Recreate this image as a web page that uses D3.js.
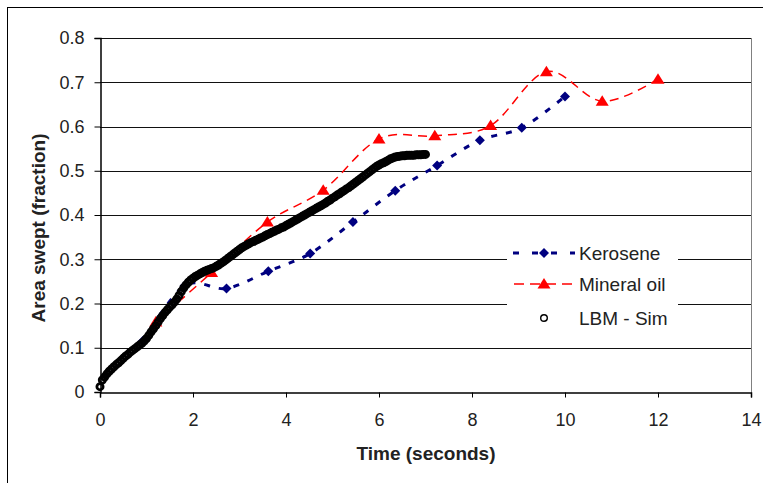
<!DOCTYPE html>
<html lang="en">
  <head>
    <meta charset="utf-8">
    <title>Area swept</title>
    <script src="https://cdn.jsdelivr.net/npm/d3@7"></script>
    <style>
      body { margin: 0; background: #fff; }
      text { font-family: "Liberation Sans", Arial, sans-serif; }
    </style>
  </head>
  <body>
    <script>
      // Data
      var keroseneTime = [0.92, 1.82, 2.72, 3.62, 4.52, 5.44, 6.35, 7.25, 8.17, 9.07, 10.0];
      var keroseneArea = [0.115, 0.240, 0.234, 0.273, 0.313, 0.384, 0.455, 0.512, 0.569, 0.597, 0.668];

      var mineralTime = [1.2, 2.4, 3.6, 4.8, 6.0, 7.2, 8.4, 9.6, 10.8, 12.0];
      var mineralArea = [0.158, 0.270, 0.384, 0.456, 0.572, 0.579, 0.602, 0.724, 0.657, 0.707];

      var lbmTime = [
        0.00, 0.05, 0.10, 0.15, 0.20, 0.25, 0.30, 0.35, 0.40, 0.45,
        0.50, 0.55, 0.60, 0.65, 0.70, 0.75, 0.80, 0.85, 0.90, 0.95,
        1.00, 1.05, 1.10, 1.15, 1.20, 1.25, 1.30, 1.35, 1.40, 1.45,
        1.50, 1.55, 1.60, 1.65, 1.70, 1.75, 1.80, 1.85, 1.90, 1.95,
        2.00, 2.05, 2.10, 2.15, 2.20, 2.25, 2.30, 2.35, 2.40, 2.45,
        2.50, 2.55, 2.60, 2.65, 2.70, 2.75, 2.80, 2.85, 2.90, 2.95,
        3.00, 3.05, 3.10, 3.15, 3.20, 3.25, 3.30, 3.35, 3.40, 3.45,
        3.50, 3.55, 3.60, 3.65, 3.70, 3.75, 3.80, 3.85, 3.90, 3.95,
        4.00, 4.05, 4.10, 4.15, 4.20, 4.25, 4.30, 4.35, 4.40, 4.45,
        4.50, 4.55, 4.60, 4.65, 4.70, 4.75, 4.80, 4.85, 4.90, 4.95,
        5.00, 5.05, 5.10, 5.15, 5.20, 5.25, 5.30, 5.35, 5.40, 5.45,
        5.50, 5.55, 5.60, 5.65, 5.70, 5.75, 5.80, 5.85, 5.90, 5.95,
        6.00, 6.05, 6.10, 6.15, 6.20, 6.25, 6.30, 6.35, 6.40, 6.45,
        6.50, 6.55, 6.60, 6.65, 6.70, 6.75, 6.80, 6.85, 6.90, 6.95,
        7.00
      ];
      var lbmArea = [
        0.012, 0.027, 0.034, 0.041, 0.047, 0.052, 0.057, 0.062, 0.066, 0.071,
        0.076, 0.081, 0.085, 0.090, 0.094, 0.098, 0.102, 0.106, 0.110, 0.115,
        0.121, 0.128, 0.136, 0.143, 0.150, 0.158, 0.166, 0.173, 0.180, 0.186,
        0.192, 0.197, 0.203, 0.210, 0.218, 0.227, 0.235, 0.242, 0.248, 0.253,
        0.257, 0.261, 0.264, 0.267, 0.270, 0.273, 0.275, 0.277, 0.279, 0.281,
        0.284, 0.287, 0.291, 0.294, 0.298, 0.302, 0.306, 0.310, 0.314, 0.318,
        0.322, 0.326, 0.329, 0.332, 0.335, 0.338, 0.340, 0.343, 0.345, 0.348,
        0.350, 0.353, 0.356, 0.358, 0.361, 0.363, 0.366, 0.368, 0.371, 0.373,
        0.376, 0.379, 0.382, 0.385, 0.388, 0.391, 0.394, 0.397, 0.400, 0.403,
        0.406, 0.409, 0.412, 0.415, 0.418, 0.421, 0.424, 0.427, 0.431, 0.434,
        0.438, 0.441, 0.445, 0.448, 0.452, 0.455, 0.459, 0.462, 0.466, 0.470,
        0.474, 0.478, 0.482, 0.486, 0.490, 0.494, 0.498, 0.502, 0.506, 0.510,
        0.513, 0.516, 0.518, 0.521, 0.524, 0.527, 0.529, 0.531, 0.532, 0.533,
        0.534, 0.534, 0.535, 0.535, 0.535, 0.535, 0.536, 0.536, 0.536, 0.537,
        0.537
      ];

      var xTicks = [0, 2, 4, 6, 8, 10, 12, 14];
      var yTicks = [0, 0.1, 0.2, 0.3, 0.4, 0.5, 0.6, 0.7, 0.8];
      var legendNames = ["Kerosene", "Mineral oil", "LBM - Sim"];

      // Plot area
      var W = 763, H = 483;
      var plot = {left: 100, top: 38, right: 751, bottom: 392};

      var svg = d3.select("body").append("svg")
                  .attr("width", W)
                  .attr("height", H);

      // outer chart frame (runs off right and bottom edges)
      svg.append("rect")
         .attr("x", 7.5).attr("y", 7.5)
         .attr("width", 900).attr("height", 600)
         .attr("fill", "#fff")
         .attr("stroke", "#000")
         .attr("stroke-width", 1);

      var x = d3.scaleLinear().domain([0, 14]).range([plot.left, plot.right]);
      var y = d3.scaleLinear().domain([0, 0.8]).range([plot.bottom, plot.top]);

      // Gridlines
      svg.append("g")
         .selectAll("line")
         .data(yTicks.slice(1))
         .enter()
         .append("line")
         .attr("x1", plot.left).attr("x2", plot.right)
         .attr("y1", function(d) { return Math.round(y(d)) + 0.5; })
         .attr("y2", function(d) { return Math.round(y(d)) + 0.5; })
         .attr("stroke", "#111")
         .attr("stroke-width", 1);

      // right edge of plot area
      svg.append("line")
         .attr("x1", plot.right + 0.5).attr("x2", plot.right + 0.5)
         .attr("y1", plot.top).attr("y2", plot.bottom)
         .attr("stroke", "#808080");

      // Axes
      var xAxis = svg.append("g")
         .attr("transform", "translate(0," + (plot.bottom + 0.5) + ")")
         .call(d3.axisBottom(x).tickValues(xTicks).tickSize(5).tickPadding(16)
                 .tickFormat(d3.format("d")));
      var yAxis = svg.append("g")
         .attr("transform", "translate(" + (plot.left + 0.5) + ",0)")
         .call(d3.axisLeft(y).tickValues(yTicks).tickSize(6).tickPadding(10)
                 .tickFormat(function(d) { return d === 0 ? "0" : d3.format(".1f")(d); }));

      [xAxis, yAxis].forEach(function(g) {
        g.select(".domain").attr("stroke", "#000").attr("stroke-width", 1.5);
        g.selectAll(".tick line").attr("stroke", "#000");
        g.selectAll(".tick text")
         .attr("font-family", "Liberation Sans, Arial, sans-serif")
         .attr("font-size", 18)
         .attr("fill", "#222");
      });

      // Axis titles
      svg.append("text")
         .attr("x", 426).attr("y", 460)
         .attr("text-anchor", "middle")
         .attr("font-size", 19)
         .attr("font-weight", "bold")
         .attr("fill", "#222")
         .text("Time (seconds)");

      svg.append("text")
         .attr("transform", "translate(45,228) rotate(-90)")
         .attr("text-anchor", "middle")
         .attr("font-size", 19)
         .attr("font-weight", "bold")
         .attr("fill", "#222")
         .text("Area swept (fraction)");

      // Series
      var diamond = "M0,-5L5,0L0,5L-5,0Z";
      var triangle = "M0,-6L6.5,4.5L-6.5,4.5Z";

      var smooth = d3.line()
                     .x(function(d) { return x(d[0]); })
                     .y(function(d) { return y(d[1]); })
                     .curve(d3.curveCardinal.tension(0));

      var kerosene = keroseneTime.map(function(t, i) { return [t, keroseneArea[i]]; });
      var mineral = mineralTime.map(function(t, i) { return [t, mineralArea[i]]; });
      var lbm = lbmTime.map(function(t, i) { return [t, lbmArea[i]]; });

      svg.append("path")
         .datum(kerosene)
         .attr("d", smooth)
         .attr("fill", "none")
         .attr("stroke", "#000080")
         .attr("stroke-width", 3)
         .attr("stroke-dasharray", "6,9");
      svg.append("g").selectAll("path")
         .data(kerosene).enter().append("path")
         .attr("d", diamond)
         .attr("transform", function(d) { return "translate(" + x(d[0]) + "," + y(d[1]) + ")"; })
         .attr("fill", "#000080");

      svg.append("path")
         .datum(mineral)
         .attr("d", smooth)
         .attr("fill", "none")
         .attr("stroke", "#ff0000")
         .attr("stroke-width", 1.5)
         .attr("stroke-dasharray", "9,6");
      svg.append("g").selectAll("path")
         .data(mineral).enter().append("path")
         .attr("d", triangle)
         .attr("transform", function(d) { return "translate(" + x(d[0]) + "," + y(d[1]) + ")"; })
         .attr("fill", "#ff0000");

      svg.append("g").selectAll("circle")
         .data(lbm).enter().append("circle")
         .attr("cx", function(d) { return x(d[0]); })
         .attr("cy", function(d) { return y(d[1]); })
         .attr("r", 3.1)
         .attr("fill", "none")
         .attr("stroke", "#000")
         .attr("stroke-width", 2.8);

      // Legend
      var legend = svg.append("g");
      legend.append("rect")
            .attr("x", 507).attr("y", 236)
            .attr("width", 171).attr("height", 98)
            .attr("fill", "#fff");

      var rowY = [253, 284, 318];
      var rows = legend.selectAll("g.row")
                       .data(legendNames)
                       .enter()
                       .append("g")
                       .attr("class", "row")
                       .attr("transform", function(d, i) { return "translate(0," + rowY[i] + ")"; });

      rows.append("text")
          .attr("x", 579)
          .attr("dy", "0.35em")
          .attr("font-size", 19)
          .attr("fill", "#222")
          .text(function(d) { return d; });

      rows.filter(function(d, i) { return i === 0; })
          .append("line")
          .attr("x1", 513).attr("x2", 575)
          .attr("stroke", "#000080").attr("stroke-width", 3)
          .attr("stroke-dasharray", "6,13");
      rows.filter(function(d, i) { return i === 0; })
          .append("path")
          .attr("d", diamond)
          .attr("transform", "translate(544,0)")
          .attr("fill", "#000080");

      rows.filter(function(d, i) { return i === 1; })
          .append("line")
          .attr("x1", 514).attr("x2", 575)
          .attr("stroke", "#ff0000").attr("stroke-width", 1.5)
          .attr("stroke-dasharray", "10,6");
      rows.filter(function(d, i) { return i === 1; })
          .append("path")
          .attr("d", triangle)
          .attr("transform", "translate(544,0)")
          .attr("fill", "#ff0000");

      rows.filter(function(d, i) { return i === 2; })
          .append("circle")
          .attr("cx", 544).attr("r", 3.3)
          .attr("fill", "none")
          .attr("stroke", "#000").attr("stroke-width", 1.4);
    </script>
  </body>
</html>
